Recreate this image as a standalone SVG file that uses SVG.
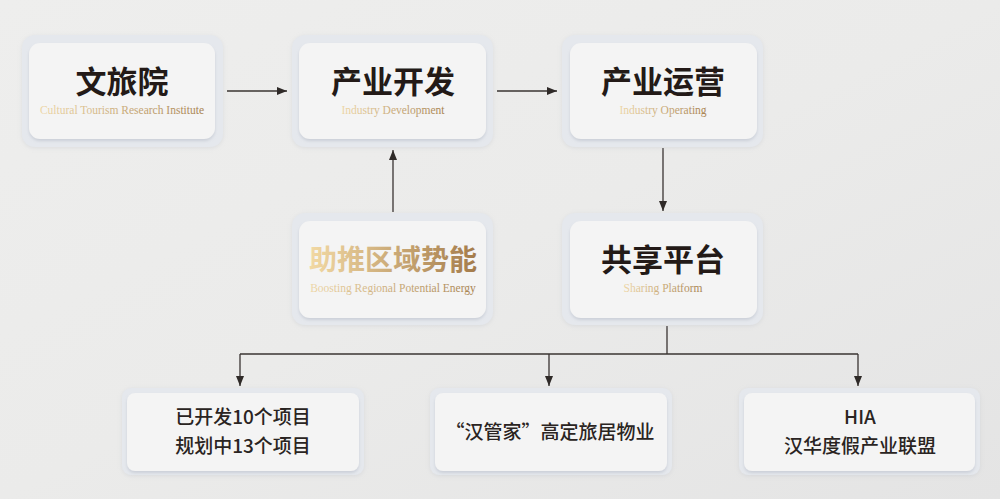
<svg xmlns="http://www.w3.org/2000/svg" width="1000" height="499" viewBox="0 0 1000 499">
<defs>
<linearGradient id="bg" x1="0" y1="0" x2="1" y2="1">
<stop offset="0" stop-color="#eeeeed"/>
<stop offset="0.5" stop-color="#ebebea"/>
<stop offset="1" stop-color="#e4e4e4"/>
</linearGradient>
<linearGradient id="gold" x1="0" y1="0" x2="1" y2="0">
<stop offset="0" stop-color="#f2d9a4"/>
<stop offset="1" stop-color="#a47b4a"/>
</linearGradient>
<linearGradient id="goldsub" x1="0" y1="0" x2="1" y2="0">
<stop offset="0" stop-color="#edd6a6"/>
<stop offset="1" stop-color="#a8824f"/>
</linearGradient>
<filter id="sh" x="-10%" y="-10%" width="120%" height="130%">
<feDropShadow dx="0" dy="2" stdDeviation="1.5" flood-color="#9aa3b0" flood-opacity="0.35"/>
</filter>
<filter id="sh2" x="-10%" y="-10%" width="120%" height="130%">
<feDropShadow dx="0" dy="1" stdDeviation="2" flood-color="#b0b6c0" flood-opacity="0.3"/>
</filter>
<marker id="ah" viewBox="0 0 10 10" refX="10" refY="5" markerWidth="10" markerHeight="10" markerUnits="userSpaceOnUse" orient="auto">
<path d="M0,1 L10,5 L0,9 Z" fill="#2f2a28"/>
</marker>
<style>
.outer{fill:#e5e8ed;filter:url(#sh2);}
.inner{fill:#f4f4f4;filter:url(#sh);}
.title{font-family:"Noto Sans CJK SC","Noto Sans",sans-serif;font-weight:700;font-size:31px;fill:#231a17;text-anchor:middle;}
.sub{font-family:"Liberation Serif","DejaVu Serif",serif;font-size:11.5px;fill:url(#goldsub);text-anchor:middle;}
.body{font-family:"Noto Sans CJK SC","Noto Sans",sans-serif;font-weight:500;font-size:19px;fill:#2a2422;text-anchor:middle;}
.conn{stroke:#3a3432;stroke-width:1.3;fill:none;}
</style>
</defs>
<rect x="0" y="0" width="1000" height="499" fill="url(#bg)"/>

<g id="connectors">
<line class="conn" x1="227" y1="91" x2="287" y2="91" marker-end="url(#ah)"/>
<line class="conn" x1="497" y1="91" x2="557" y2="91" marker-end="url(#ah)"/>
<line class="conn" x1="393" y1="212" x2="393" y2="150" marker-end="url(#ah)"/>
<line class="conn" x1="663" y1="148" x2="663" y2="211" marker-end="url(#ah)"/>
<polyline class="conn" points="667,326 667,354"/>
<polyline class="conn" points="240,354 858,354"/>
<line class="conn" x1="240" y1="354" x2="240" y2="386" marker-end="url(#ah)"/>
<line class="conn" x1="549" y1="354" x2="549" y2="386" marker-end="url(#ah)"/>
<line class="conn" x1="858" y1="354" x2="858" y2="386" marker-end="url(#ah)"/>
</g>

<g id="node-wenlvyuan">
<rect class="outer" x="22" y="35" width="201" height="112" rx="13"/>
<rect class="inner" x="29" y="43" width="186" height="96" rx="11"/>
<text class="title" x="122" y="93">文旅院</text>
<text class="sub" x="122" y="114">Cultural Tourism Research Institute</text>
</g>

<g id="node-chanyekaifa">
<rect class="outer" x="292" y="35" width="201" height="112" rx="13"/>
<rect class="inner" x="299" y="43" width="187" height="96" rx="11"/>
<text class="title" x="393" y="93">产业开发</text>
<text class="sub" x="393" y="114">Industry Development</text>
</g>

<g id="node-chanyeyunying">
<rect class="outer" x="562" y="35" width="201" height="112" rx="13"/>
<rect class="inner" x="570" y="43" width="187" height="96" rx="11"/>
<text class="title" x="663" y="93">产业运营</text>
<text class="sub" x="663" y="114">Industry Operating</text>
</g>

<g id="node-zhutui">
<rect class="outer" x="292" y="213" width="201" height="112" rx="13"/>
<rect class="inner" x="299" y="221" width="187" height="97" rx="11"/>
<text class="title" x="393" y="270" style="fill:url(#gold);font-size:28px">助推区域势能</text>
<text class="sub" x="393" y="292">Boosting Regional Potential Energy</text>
</g>

<g id="node-gongxiang">
<rect class="outer" x="562" y="213" width="201" height="112" rx="13"/>
<rect class="inner" x="570" y="221" width="187" height="97" rx="11"/>
<text class="title" x="663" y="271">共享平台</text>
<text class="sub" x="663" y="292">Sharing Platform</text>
</g>

<g id="node-projects">
<rect class="outer" x="122" y="388" width="242" height="87" rx="9"/>
<rect class="inner" x="127" y="393" width="232" height="78" rx="8"/>
<text class="body" x="243" y="424">已开发10个项目</text>
<text class="body" x="243" y="453">规划中13个项目</text>
</g>

<g id="node-hanguanjia">
<rect class="outer" x="430" y="388" width="242" height="87" rx="9"/>
<rect class="inner" x="435" y="393" width="232" height="78" rx="8"/>
<text class="body" x="550" y="439">“汉管家”高定旅居物业</text>
</g>

<g id="node-hia">
<rect class="outer" x="739" y="388" width="241" height="87" rx="9"/>
<rect class="inner" x="744" y="393" width="231" height="78" rx="8"/>
<text class="body" x="860" y="424">HIA</text>
<text class="body" x="860" y="453">汉华度假产业联盟</text>
</g>
</svg>
